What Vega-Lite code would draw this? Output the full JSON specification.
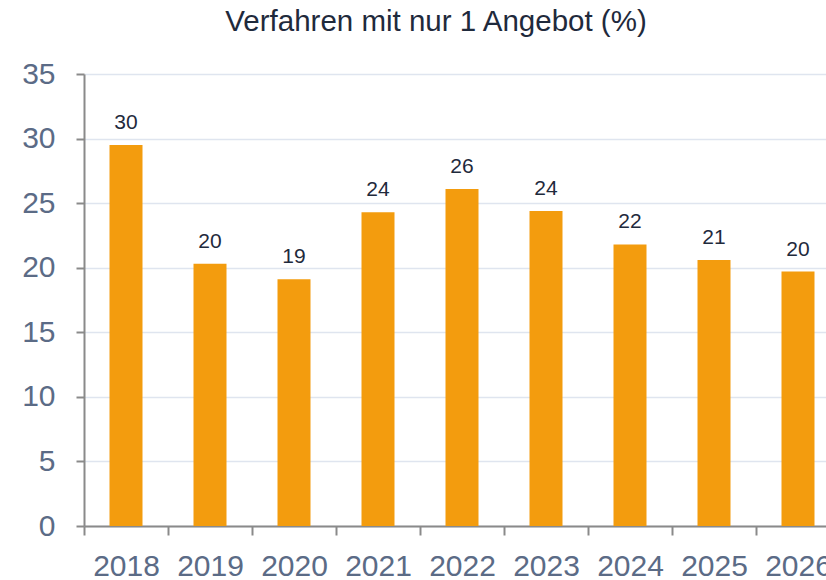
{
  "$schema": "https://vega.github.io/schema/vega-lite/v6.json",
  "autosize": "none",
  "width": 756,
  "height": 452,
  "padding": {"left": 84, "top": 74, "right": 0, "bottom": 54},
  "background": "white",
  "title": {
    "text": "Verfahren mit nur 1 Angebot (%)",
    "font": "Liberation Sans",
    "fontSize": 29.5,
    "fontWeight": "normal",
    "color": "#1f2a3c",
    "anchor": "middle",
    "dx": -26,
    "offset": 22
  },
  "data": {
    "values": [
      {"year": "2018", "value": 29.5},
      {"year": "2019", "value": 20.3},
      {"year": "2020", "value": 19.1},
      {"year": "2021", "value": 24.3},
      {"year": "2022", "value": 26.1},
      {"year": "2023", "value": 24.4},
      {"year": "2024", "value": 21.8},
      {"year": "2025", "value": 20.6},
      {"year": "2026", "value": 19.7}
    ]
  },
  "config": {
    "view": {"stroke": null},
    "axis": {
      "labelFont": "Liberation Sans",
      "labelFontSize": 30,
      "labelColor": "#5B6B86",
      "domainColor": "#8a8a8a",
      "domainWidth": 2,
      "tickColor": "#8a8a8a",
      "tickWidth": 2,
      "title": null
    }
  },
  "encoding": {
    "x": {
      "field": "year",
      "type": "ordinal",
      "scale": {"paddingInner": 0, "paddingOuter": 0},
      "axis": {
        "labelAngle": 0,
        "tickBand": "extent",
        "tickSize": 9,
        "labelPadding": 16,
        "grid": false
      }
    }
  },
  "layer": [
    {
      "mark": {"type": "bar", "size": 33, "color": "#F39C0E"},
      "encoding": {
        "y": {
          "field": "value",
          "type": "quantitative",
          "scale": {"domain": [0, 35]},
          "axis": {
            "values": [0, 5, 10, 15, 20, 25, 30, 35],
            "tickSize": 8,
            "labelPadding": 21,
            "grid": true,
            "gridColor": "#dfe5ef",
            "gridWidth": 1.5
          }
        }
      }
    },
    {
      "mark": {
        "type": "text",
        "font": "Liberation Sans",
        "fontSize": 21,
        "color": "#1f2a3c",
        "baseline": "alphabetic",
        "dy": -16
      },
      "encoding": {
        "y": {"field": "value", "type": "quantitative"},
        "text": {"field": "value", "type": "quantitative", "format": ".0f"}
      }
    }
  ]
}
